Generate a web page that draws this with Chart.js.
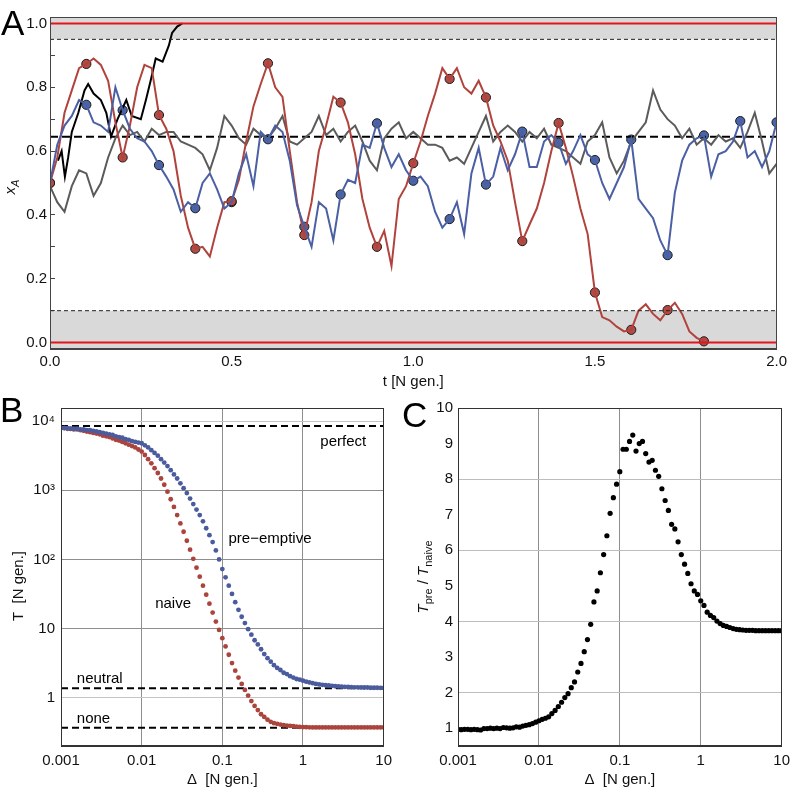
<!DOCTYPE html>
<html>
<head>
<meta charset="utf-8">
<title>x_A traces and switching times</title>
<script src="https://cdn.jsdelivr.net/npm/chart.js@4.4.1/dist/chart.umd.min.js"></script>
<style>
  body { margin: 0; background: #fff; }
  #wrap { position: relative; width: 796px; height: 796px; }
  canvas { position: absolute; }
</style>
</head>
<body>
<div id="wrap">
  <canvas id="chartA" width="796" height="396" style="left:0;top:0"></canvas>
  <canvas id="chartB" width="398" height="408" style="left:0;top:388px"></canvas>
  <canvas id="chartC" width="398" height="408" style="left:398px;top:388px"></canvas>
</div>
<script>
// ---------- panel A : x_A against t ----------
var TIME = [0,0.02,0.04,0.06,0.08,0.1,0.12,0.14,0.16,0.18,0.2,0.22,0.24,0.26,0.28,0.3,0.32,0.34,0.36,0.38,
  0.4,0.42,0.44,0.46,0.48,0.5,0.52,0.54,0.56,0.58,0.6,0.62,0.64,0.66,0.68,0.7,0.72,0.74,0.76,0.78,
  0.8,0.82,0.84,0.86,0.88,0.9,0.92,0.94,0.96,0.98,1.0,1.02,1.04,1.06,1.08,1.1,1.12,1.14,1.16,1.18,
  1.2,1.22,1.24,1.26,1.28,1.3,1.32,1.34,1.36,1.38,1.4,1.42,1.44,1.46,1.48,1.5,1.52,1.54,1.56,1.58,
  1.6,1.62,1.64,1.66,1.68,1.7,1.72,1.74,1.76,1.78,1.8,1.82,1.84,1.86,1.88,1.9,1.92,1.94,1.96,1.98,2.0];

// red run stops at t = 1.8 (lost)
var RED_XA = [0.50,0.58,0.72,0.79,0.86,0.873,0.89,0.87,0.82,0.69,0.58,0.68,0.80,0.87,0.86,0.713,0.67,0.60,0.46,0.36,
  0.294,0.30,0.27,0.36,0.44,0.443,0.51,0.63,0.74,0.81,0.875,0.80,0.77,0.60,0.44,0.337,0.44,0.60,0.68,0.77,
  0.752,0.69,0.59,0.45,0.36,0.30,0.35,0.24,0.45,0.49,0.562,0.63,0.71,0.78,0.86,0.826,0.86,0.80,0.78,0.82,
  0.768,0.68,0.63,0.57,0.44,0.318,0.37,0.42,0.50,0.60,0.688,0.61,0.52,0.42,0.34,0.157,0.08,0.07,0.05,0.035,
  0.04,0.10,0.12,0.09,0.07,0.102,0.125,0.09,0.035,0.015,0.004];

var BLUE_XA = [0.50,0.62,0.68,0.71,0.76,0.745,0.69,0.68,0.66,0.80,0.728,0.67,0.64,0.63,0.60,0.556,0.52,0.48,0.41,0.44,
  0.421,0.50,0.53,0.48,0.42,0.44,0.53,0.59,0.49,0.66,0.637,0.68,0.66,0.57,0.43,0.363,0.30,0.44,0.42,0.32,
  0.464,0.51,0.50,0.62,0.61,0.687,0.61,0.55,0.59,0.54,0.507,0.52,0.49,0.41,0.36,0.387,0.44,0.34,0.53,0.61,
  0.495,0.52,0.61,0.54,0.59,0.661,0.55,0.55,0.63,0.65,0.626,0.56,0.60,0.65,0.59,0.572,0.50,0.45,0.50,0.55,
  0.636,0.45,0.42,0.39,0.32,0.274,0.47,0.57,0.62,0.64,0.649,0.52,0.59,0.60,0.63,0.694,0.58,0.60,0.55,0.60,0.69];

var GRAY_XA = [0.49,0.44,0.41,0.49,0.54,0.53,0.46,0.50,0.58,0.64,0.68,0.65,0.66,0.63,0.67,0.65,0.66,0.66,0.63,0.62,
  0.61,0.59,0.54,0.61,0.71,0.68,0.64,0.62,0.67,0.65,0.64,0.67,0.71,0.63,0.62,0.64,0.66,0.71,0.65,0.67,
  0.63,0.66,0.68,0.63,0.57,0.54,0.64,0.67,0.69,0.64,0.66,0.64,0.62,0.62,0.61,0.57,0.58,0.56,0.61,0.66,
  0.71,0.63,0.66,0.68,0.66,0.63,0.66,0.64,0.67,0.62,0.61,0.60,0.58,0.56,0.63,0.65,0.69,0.58,0.53,0.57,
  0.63,0.66,0.69,0.79,0.73,0.70,0.68,0.64,0.67,0.62,0.64,0.62,0.65,0.63,0.64,0.61,0.66,0.72,0.63,0.53,0.56];

// black run fixes at t ~ 0.36
var BLACK_T  = [0.022,0.032,0.041,0.05,0.06,0.078,0.095,0.105,0.12,0.14,0.155,0.168,0.186,0.21,0.225,0.25,0.264,0.277,0.291,0.31,0.327,0.336,0.35,0.364];
var BLACK_XA = [0.57,0.60,0.52,0.58,0.66,0.72,0.79,0.81,0.78,0.76,0.72,0.645,0.70,0.76,0.71,0.70,0.76,0.82,0.89,0.88,0.93,0.97,0.99,1.00];

var A_X_TICKS  = [0,0.1,0.2,0.3,0.4,0.5,0.6,0.7,0.8,0.9,1.0,1.1,1.2,1.3,1.4,1.5,1.6,1.7,1.8,1.9,2.0];
var A_X_LABELS = ['0.0','','','','','0.5','','','','','1.0','','','','','1.5','','','','','2.0'];
var A_Y_TICKS  = [0,0.1,0.2,0.3,0.4,0.5,0.6,0.7,0.8,0.9,1.0];
var A_Y_LABELS = ['0.0','','0.2','','0.4','','0.6','','0.8','','1.0'];
var EDGE_LEVELS = [0, 1];
var SAFE_LEVELS = [0.1, 0.95];
var MEAN_LEVEL = 0.645;

// ---------- panel B and C : against Delta ----------
var DELTA = [1.000e-3,1.096e-3,1.202e-3,1.318e-3,1.445e-3,1.585e-3,1.738e-3,1.905e-3,2.089e-3,2.291e-3,
  2.512e-3,2.754e-3,3.020e-3,3.311e-3,3.631e-3,3.981e-3,4.365e-3,4.786e-3,5.248e-3,5.754e-3,
  6.310e-3,6.918e-3,7.586e-3,8.318e-3,9.120e-3,
  1.000e-2,1.096e-2,1.202e-2,1.318e-2,1.445e-2,1.585e-2,1.738e-2,1.905e-2,2.089e-2,2.291e-2,
  2.512e-2,2.754e-2,3.020e-2,3.311e-2,3.631e-2,3.981e-2,4.365e-2,4.786e-2,5.248e-2,5.754e-2,
  6.310e-2,6.918e-2,7.586e-2,8.318e-2,9.120e-2,
  1.000e-1,1.096e-1,1.202e-1,1.318e-1,1.445e-1,1.585e-1,1.738e-1,1.905e-1,2.089e-1,2.291e-1,
  2.512e-1,2.754e-1,3.020e-1,3.311e-1,3.631e-1,3.981e-1,4.365e-1,4.786e-1,5.248e-1,5.754e-1,
  6.310e-1,6.918e-1,7.586e-1,8.318e-1,9.120e-1,
  1.000,1.096,1.202,1.318,1.445,1.585,1.738,1.905,2.089,2.291,
  2.512,2.754,3.020,3.311,3.631,3.981,4.365,4.786,5.248,5.754,
  6.310,6.918,7.586,8.318,9.120,10.0];

var PRE_T = [7943,7943,7943,7762,7762,7762,7586,7586,7413,7413,
  7244,7079,6918,6761,6607,6457,6310,6026,5888,5754,
  5495,5370,5129,5012,4898,4786,4467,4169,3802,3467,
  3162,2818,2512,2239,1950,1698,1479,1259,1072,912,
  759,631,525,437,355,282,224,178,135,100,
  72.4,55.0,41.7,31.6,24.0,18.6,14.8,12.0,9.77,8.13,
  6.76,5.89,5.01,4.27,3.72,3.31,2.95,2.69,2.51,2.29,
  2.19,2.04,1.95,1.86,1.82,1.76,1.70,1.66,1.62,1.58,
  1.55,1.53,1.51,1.50,1.48,1.46,1.45,1.44,1.43,1.43,
  1.42,1.41,1.41,1.41,1.40,1.40,1.39,1.39,1.39,1.38,1.38];

var NAIVE_T = [7943,7943,7762,7762,7586,7586,7413,7244,7079,6918,
  6761,6607,6457,6166,6026,5888,5623,5370,5248,5012,
  4786,4571,4365,4169,3890,3631,3236,2818,2455,2089,
  1778,1479,1202,955,741,575,437,331,251,186,
  138,102,75.9,56.2,41.7,30.9,22.9,17.0,12.6,9.55,
  7.24,5.50,4.17,3.16,2.45,1.95,1.58,1.29,1.07,0.891,
  0.759,0.661,0.575,0.525,0.479,0.447,0.427,0.417,0.407,0.398,
  0.394,0.389,0.385,0.380,0.377,0.375,0.373,0.372,0.371,0.370,
  0.370,0.370,0.370,0.370,0.370,0.370,0.370,0.370,0.370,0.370,
  0.370,0.370,0.370,0.370,0.370,0.370,0.370,0.370,0.370,0.370,0.370];

var RATIO = [0.97,0.96,0.97,0.97,0.96,0.97,0.96,0.95,0.99,0.99,
  1.00,0.99,1.00,0.99,1.02,1.01,1.00,1.01,1.04,1.03,
  1.06,1.08,1.10,1.13,1.17,1.21,1.25,1.28,1.32,1.41,
  1.50,1.61,1.73,1.86,1.97,2.14,2.30,2.58,2.82,3.15,
  3.49,3.92,4.55,4.86,5.37,5.88,6.41,7.04,7.48,7.86,
  8.21,8.84,8.84,9.06,9.24,8.79,9.00,9.06,8.72,8.48,
  8.53,8.25,8.08,7.73,7.40,7.12,6.73,6.60,6.24,5.88,
  5.61,5.35,5.06,4.86,4.76,4.58,4.45,4.26,4.17,4.11,
  4.01,3.94,3.89,3.86,3.83,3.80,3.78,3.77,3.76,3.75,
  3.75,3.75,3.74,3.74,3.74,3.74,3.74,3.74,3.74,3.74,3.74];

var PERFECT_T = 8500;
var NEUTRAL_T = 1.37;
var NONE_T = 0.365;

var LOG_X_TICKS  = [0.001, 0.01, 0.1, 1, 10];
var LOG_X_LABELS = ['0.001', '0.01', '0.1', '1', '10'];
var B_Y_TICKS  = [1, 10, 100, 1000, 10000];
var B_Y_LABELS = ['1', '10', '10\u00b2', '10\u00b3', '10\u2074'];
var C_Y_TICKS  = [1,2,3,4,5,6,7,8,9,10];

var FONT = "'Liberation Sans', Arial, Helvetica, sans-serif";
Chart.defaults.font.family = FONT;
Chart.defaults.font.size = 15;
Chart.defaults.color = '#111';

function fontOf(size, italic) {
  return (italic ? 'italic ' : '') + size + 'px ' + FONT;
}

function hline(y, x0, x1, color, width, dash) {
  return { data: [{x: x0, y: y}, {x: x1, y: y}], showLine: true, pointRadius: 0,
           borderColor: color, borderWidth: width, borderDash: dash || [] };
}
function trace(ts, vals, color, width) {
  return { data: vals.map(function(v, i) { return {x: ts[i], y: v}; }), showLine: true, pointRadius: 0,
           borderColor: color, borderWidth: width || 2, tension: 0 };
}
function markers(ts, vals, color) {
  var pts = [];
  for (var i = 0; i < vals.length; i += 5) pts.push({x: ts[i], y: vals[i]});
  return { data: pts, pointRadius: 4.6, pointBackgroundColor: color, pointBorderColor: '#1b1b1b',
           pointBorderWidth: 1, showLine: false };
}
function dots(xs, ys, color, r) {
  return { data: ys.map(function(v, i) { return {x: xs[i], y: v}; }), pointRadius: r, pointBorderWidth: 0,
           pointBackgroundColor: color, showLine: false };
}
function setTicks(list) {
  return function(scale) { scale.ticks = list.map(function(v) { return {value: v}; }); };
}

// grey bands behind the traces
var bands = {
  id: 'bands',
  beforeDatasetsDraw: function(chart, args, opts) {
    if (!opts.ranges) return;
    var y = chart.scales.y, a = chart.chartArea, ctx = chart.ctx;
    ctx.save();
    ctx.fillStyle = opts.color;
    opts.ranges.forEach(function(r) {
      var p0 = y.getPixelForValue(r[0]), p1 = y.getPixelForValue(r[1]);
      ctx.fillRect(a.left, Math.min(p0, p1), a.right - a.left, Math.abs(p1 - p0));
    });
    ctx.restore();
  }
};

// box, panel letter, rotated axis title, notes
var decor = {
  id: 'decor',
  afterDraw: function(chart, args, opts) {
    var ctx = chart.ctx, a = chart.chartArea;
    ctx.save();
    ctx.strokeStyle = opts.frame || '#444';
    ctx.lineWidth = 1;
    ctx.strokeRect(Math.round(a.left) + 0.5, Math.round(a.top) + 0.5,
                   Math.round(a.right - a.left) - 1, Math.round(a.bottom - a.top) - 1);
    ctx.fillStyle = '#000';
    ctx.textAlign = 'left';
    ctx.textBaseline = 'alphabetic';
    ctx.font = fontOf(35, false);
    ctx.fillText(opts.letter.text, opts.letter.x, opts.letter.y);

    if (opts.notes) {
      ctx.font = fontOf(15, false);
      ctx.textBaseline = 'middle';
      opts.notes.forEach(function(n) {
        ctx.textAlign = n.align;
        ctx.fillText(n.text, chart.scales.x.getPixelForValue(n.x), chart.scales.y.getPixelForValue(n.y));
      });
    }

    var t = opts.ytitle, size = 15, w = 0;
    ctx.translate(t.x, t.y);
    ctx.rotate(-Math.PI / 2);
    t.parts.forEach(function(p) {
      ctx.font = fontOf(p.sub ? 11 : size, p.italic);
      p.w = ctx.measureText(p.t).width;
      w += p.w;
    });
    var x = -w / 2;
    ctx.textAlign = 'left';
    ctx.textBaseline = 'alphabetic';
    ctx.fillStyle = '#111';
    t.parts.forEach(function(p) {
      ctx.font = fontOf(p.sub ? 11 : size, p.italic);
      ctx.fillText(p.t, x, p.sub ? 4 : 0);
      x += p.w;
    });
    ctx.restore();
  }
};

// ---------- chart A ----------
new Chart(document.getElementById('chartA'), {
  type: 'scatter',
  data: { datasets: [
    hline(EDGE_LEVELS[1], 0, 2, '#e3161e', 2),
    hline(EDGE_LEVELS[0], 0, 2, '#e3161e', 2),
    hline(SAFE_LEVELS[1], 0, 2, '#222', 1, [4, 3]),
    hline(SAFE_LEVELS[0], 0, 2, '#222', 1, [4, 3]),
    trace(TIME, BLUE_XA, '#4b60a4'),
    trace(TIME, RED_XA, '#b1433d'),
    trace(TIME, GRAY_XA, '#5b5b5b'),
    hline(MEAN_LEVEL, 0, 2, '#000', 2, [8, 4]),
    trace(BLACK_T, BLACK_XA, '#000', 2),
    markers(TIME, RED_XA, '#b34a44'),
    markers(TIME, BLUE_XA, '#4a64a8')
  ]},
  options: {
    responsive: false, animation: false, events: [],
    layout: { padding: { top: 12, right: 13, left: 0, bottom: 0 } },
    scales: {
      x: {
        type: 'linear', min: 0, max: 2,
        afterBuildTicks: setTicks(A_X_TICKS),
        afterFit: function(s) { s.height = 47; },
        ticks: { autoSkip: false, maxRotation: 0, padding: 9, callback: function(v, i) { return A_X_LABELS[i]; } },
        grid: { drawOnChartArea: false, tickLength: -5, tickColor: '#444' },
        border: { color: '#444' },
        title: { display: true, text: 't [N gen.]', padding: { top: 0, bottom: 5 } }
      },
      y: {
        min: -0.02, max: 1.02,
        afterBuildTicks: setTicks(A_Y_TICKS),
        afterFit: function(s) { s.width = 50; },
        ticks: { autoSkip: false, padding: 8, callback: function(v, i) { return A_Y_LABELS[i]; } },
        grid: { drawOnChartArea: false, tickLength: -5, tickColor: '#444' },
        border: { color: '#444' }
      }
    },
    plugins: {
      legend: { display: false }, tooltip: { enabled: false },
      bands: { color: '#d9d9d9', ranges: [[SAFE_LEVELS[1], 1.02], [-0.02, SAFE_LEVELS[0]]] },
      decor: { letter: { text: 'A', x: 1, y: 35 },
               ytitle: { x: 15, y: 187, parts: [{t: 'x', italic: true}, {t: 'A', italic: true, sub: true}] } }
    }
  },
  plugins: [bands, decor]
});

// ---------- chart B ----------
new Chart(document.getElementById('chartB'), {
  type: 'scatter',
  data: { datasets: [
    dots(DELTA, PRE_T, '#4a5c9e', 2.4),
    dots(DELTA, NAIVE_T, '#ab443d', 2.4),
    hline(PERFECT_T, 0.001, 10, '#000', 2, [7, 4]),
    hline(NEUTRAL_T, 0.001, 10, '#000', 2, [7, 4]),
    hline(NONE_T, 0.001, 10, '#000', 2, [7, 4])
  ]},
  options: {
    responsive: false, animation: false, events: [],
    layout: { padding: { top: 20, right: 9, left: 0, bottom: 0 } },
    scales: {
      x: {
        type: 'logarithmic', min: 0.001, max: 10,
        afterBuildTicks: setTicks(LOG_X_TICKS),
        afterFit: function(s) { s.height = 50; },
        ticks: { autoSkip: false, maxRotation: 0, padding: 6, callback: function(v, i) { return LOG_X_LABELS[i]; } },
        grid: { drawTicks: false, color: '#8e8e8e' },
        border: { color: '#333' },
        title: { display: true, text: '\u0394  [N gen.]', padding: { top: 0, bottom: 7 } }
      },
      y: {
        type: 'logarithmic', min: 0.1995, max: 15500,
        afterBuildTicks: setTicks(B_Y_TICKS),
        afterFit: function(s) { s.width = 61; },
        ticks: { autoSkip: false, padding: 6, callback: function(v, i) { return B_Y_LABELS[i]; } },
        grid: { drawTicks: false, color: function(c) { return (c.index === 0 || c.index === 4) ? '#c4c4c4' : '#8e8e8e'; } },
        border: { color: '#333' }
      }
    },
    plugins: {
      legend: { display: false }, tooltip: { enabled: false },
      decor: {
        frame: '#333',
        letter: { text: 'B', x: 0, y: 34 },
        ytitle: { x: 23, y: 198, parts: [{t: 'T  [N gen.]'}] },
        notes: [
          { text: 'perfect', x: 3.16, y: 4970, align: 'center' },
          { text: 'pre\u2212emptive', x: 0.39, y: 195, align: 'center' },
          { text: 'naive', x: 0.0245, y: 23, align: 'center' },
          { text: 'neutral', x: 0.00157, y: 1.88, align: 'left' },
          { text: 'none', x: 0.00157, y: 0.50, align: 'left' }
        ]
      }
    }
  },
  plugins: [decor]
});

// ---------- chart C ----------
new Chart(document.getElementById('chartC'), {
  type: 'scatter',
  data: { datasets: [ dots(DELTA, RATIO, '#000', 2.6) ] },
  options: {
    responsive: false, animation: false, events: [],
    layout: { padding: { top: 20, right: 11, left: 0, bottom: 0 } },
    scales: {
      x: {
        type: 'logarithmic', min: 0.001, max: 10,
        afterBuildTicks: setTicks(LOG_X_TICKS),
        afterFit: function(s) { s.height = 50; },
        ticks: { autoSkip: false, maxRotation: 0, padding: 6, callback: function(v, i) { return LOG_X_LABELS[i]; } },
        grid: { drawTicks: false, color: '#8e8e8e' },
        border: { color: '#333' },
        title: { display: true, text: '\u0394  [N gen.]', padding: { top: 0, bottom: 7 } }
      },
      y: {
        min: 0.5, max: 10,
        afterBuildTicks: setTicks(C_Y_TICKS),
        afterFit: function(s) { s.width = 60; },
        ticks: { autoSkip: false, padding: 5 },
        grid: { drawTicks: false, color: function(c) { return (c.tick && c.tick.value % 2 === 0) ? '#bdbdbd' : 'rgba(0,0,0,0)'; } },
        border: { color: '#333' }
      }
    },
    plugins: {
      legend: { display: false }, tooltip: { enabled: false },
      decor: {
        frame: '#333',
        letter: { text: 'C', x: 4, y: 39 },
        ytitle: { x: 30, y: 189, parts: [{t: 'T', italic: true}, {t: 'pre', sub: true}, {t: ' / '},
                                         {t: 'T', italic: true}, {t: 'naive', sub: true}] }
      }
    }
  },
  plugins: [decor]
});
</script>
</body>
</html>
